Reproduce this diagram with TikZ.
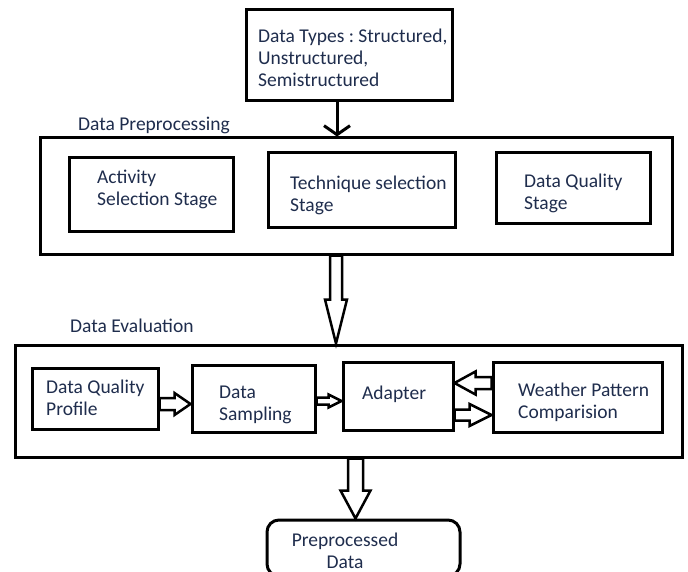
\documentclass[tikz,border=0pt]{standalone}
\usepackage{fontspec}
\setmainfont{Carlito}
\usetikzlibrary{arrows.meta,calc}
\frenchspacing
\definecolor{ink}{HTML}{1F2D4D}
\tikzset{
  box/.style={draw=black, line width=3pt, inner sep=0pt, fill=white},
  lbl/.style={text=ink, font=\fontsize{19.5}{22}\selectfont, align=left,
    inner sep=0pt, anchor=base west},
  hollow/.style={draw=black, fill=white, line width=2.5pt, line join=miter},
}
% hollow block arrow pointing down: start, tip, shaft half width, head half width, head length
\newcommand\hollowv[5]{\draw[hollow] let \p1=(#1), \p2=(#2) in
  ({\x1-#3pt},\y1) -- ({\x1-#3pt},{\y2+#5pt}) -- ({\x1-#4pt},{\y2+#5pt}) --
  (\x1,\y2) -- ({\x1+#4pt},{\y2+#5pt}) -- ({\x1+#3pt},{\y2+#5pt}) --
  ({\x1+#3pt},\y1) -- cycle;}
% hollow block arrow, horizontal: a negative head length points it to the left
\newcommand\hollowh[5]{\draw[hollow] let \p1=(#1), \p2=(#2) in
  (\x1,{\y1+#3pt}) -- ({\x2-(#5pt)},{\y1+#3pt}) -- ({\x2-(#5pt)},{\y1+#4pt}) --
  (\x2,\y1) -- ({\x2-(#5pt)},{\y1-#4pt}) -- ({\x2-(#5pt)},{\y1-#3pt}) --
  (\x1,{\y1-#3pt}) -- cycle;}
\begin{document}
\begin{tikzpicture}[x=1pt, y=-1pt]
\useasboundingbox (0,0) rectangle (688,572);
\clip (0,0) rectangle (688,572);
\fill[white] (0,0) rectangle (688,572);

% input (text nodes are placed by the baseline of their last line)
\node[box, minimum width=206pt, minimum height=91pt] (types) at (349,55.5) {};
\node[lbl] (typesT) at (258,87) {Data Types : Structured,\\Unstructured,\\Semistructured};

% preprocessing stage
\node[lbl] (preT) at (78,131) {Data Preprocessing};
\node[box, minimum width=632pt, minimum height=116pt] (pre) at (356,196) {};
\node[box, minimum width=164pt, minimum height=74pt] (act) at (151,195) {};
\node[box, minimum width=187pt, minimum height=75pt] (tech) at (361.5,190.5) {};
\node[box, minimum width=154pt, minimum height=71pt] (dqs) at (573,188.5) {};
\node[lbl] (actT) at (97,206) {Activity\\Selection Stage};
\node[lbl] (techT) at (290,212) {Technique selection\\Stage};
\node[lbl] (dqsT) at (524,210) {Data Quality\\Stage};

% evaluation stage
\node[lbl] (evalT) at (70,332) {Data Evaluation};
\node[box, minimum width=667pt, minimum height=112pt] (eval) at (348.5,401) {};
\node[box, minimum width=126pt, minimum height=61pt] (dqp) at (95,398.5) {};
\node[box, minimum width=123pt, minimum height=67pt] (ds) at (253.5,398.5) {};
\node[box, minimum width=110pt, minimum height=68pt] (ad) at (398,396) {};
\node[box, minimum width=169pt, minimum height=70pt] (wp) at (577.5,397) {};
\node[lbl] (dqpT) at (46,415) {Data Quality\\Profile};
\node[lbl] (dsT) at (219,420) {Data\\Sampling};
\node[lbl] (adT) at (362,399) {Adapter};
\node[lbl] (wpT) at (518,418) {Weather Pattern\\Comparision};

% output
\node[box, rounded corners=12pt, minimum width=193pt, minimum height=56pt] (term) at (363.5,548) {};
\node[lbl, align=center, anchor=base] (termT) at (345,568) {Preprocessed\\Data};

% connector guide lines
\coordinate (xa) at (337,0);
\coordinate (xb) at (336,0);
\coordinate (xc) at (355.5,0);
\coordinate (ya) at (0,404);
\coordinate (yb) at (0,401);
\coordinate (yc) at (0,383);
\coordinate (yd) at (0,415);

\draw[line width=3pt, -{Straight Barb[length=9pt, width=26pt, line width=3pt]}]
  (types.south -| xa) -- (pre.north -| xa);
\hollowv{pre.south -| xb}{eval.north -| xb}{6}{11}{44}
\hollowv{eval.south -| xc}{term.north -| xc}{7.5}{15}{28}
\hollowh{dqp.east |- ya}{ds.west |- ya}{6}{11}{16}
\hollowh{ds.east |- yb}{ad.west |- yb}{3.5}{6.5}{13}
\hollowh{wp.west |- yc}{ad.east |- yc}{6}{11.5}{-21}
\hollowh{ad.east |- yd}{wp.west |- yd}{5.5}{11}{22}
\end{tikzpicture}
\end{document}
